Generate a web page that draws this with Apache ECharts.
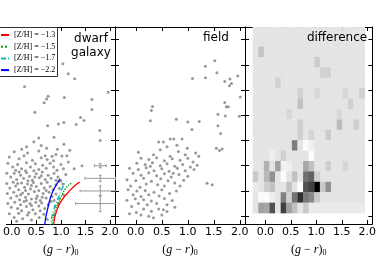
<!DOCTYPE html>
<html><head><meta charset="utf-8">
<script src="https://cdn.jsdelivr.net/npm/echarts@6/dist/echarts.min.js"></script>
<style>html,body{margin:0;padding:0;background:#fff}#c{width:379px;height:262px}</style>
</head><body><div id="c"></div>
<script>
// ---- data ----
const xTicks = [0, 0.5, 1.0, 1.5, 2.0];
const yTicks = [19, 20, 21, 22, 23, 24, 25, 26];
const xRangeFirst = [-0.11, 2.1];   // first panel is cut at the left edge of the picture
const xRange = [-0.4, 2.1];
const yRange = [18.5, 26.31];

const dwarfPts = [
 [1.04,19.96],[1.15,20.35],[1.28,20.55],[0.26,20.87],[0.74,21.25],[0.71,21.35],[0.66,21.5],[1.07,21.29],[1.63,21.37],[1.96,21.09],[1.63,21.77],[0.47,21.88],[1.4,22.09],[1.47,22.21],[1.06,22.29],[0.95,22.35],
 [0.73,22.41],[1.31,22.37],[1.79,22.6],[0.55,22.9],[0.86,22.87],[1.8,23.0],[1.06,23.15],[0.6,23.2],[0.71,23.31],[0.93,23.35],[1.18,23.39],[0.68,23.6],[0.82,23.62],[1.02,23.61],[1.43,24.0],[1.27,24.12],
 [1.15,23.85],[0.3,23.25],[0.45,23.05],[0.2,23.35],
 [0.05,23.45],[0.32,23.5],[0.55,23.42],[0.6,23.68],[0.9,23.55],[0.15,23.72],[0.42,23.78],[0.72,23.75],[1.12,23.6],[-0.05,23.65],[0.25,23.6],[0.85,23.8],
 [-0.08,23.9],[0.02,24.05],[0.12,23.95],[0.2,24.12],[0.3,23.88],[0.38,24.05],[0.48,23.92],[0.55,24.15],[0.63,23.98],[0.7,24.1],[0.78,23.9],[0.85,24.05],[0.92,24.18],[1.0,23.95],[0.08,24.18],[0.45,24.2],[0.28,24.2],[1.05,24.12],
 [-0.1,24.3],[-0.02,24.45],[0.05,24.3],[0.1,24.55],[0.18,24.38],[0.24,24.5],[0.3,24.28],[0.36,24.42],[0.42,24.58],[0.5,24.32],[0.56,24.48],[0.62,24.25],[0.68,24.55],[0.74,24.38],[0.8,24.5],[0.86,24.3],[0.94,24.45],[1.0,24.6],[0.15,24.25],[0.47,24.45],[0.9,24.58],[0.33,24.6],[0.6,24.4],[1.1,24.35],
 [-0.1,24.7],[-0.04,24.88],[0.03,24.65],[0.08,24.8],[0.14,24.95],[0.2,24.68],[0.26,24.85],[0.32,24.72],[0.38,24.92],[0.44,24.66],[0.5,24.82],[0.55,24.98],[0.6,24.7],[0.66,24.88],[0.72,24.65],[0.78,24.82],[0.84,24.95],[0.9,24.75],[0.97,24.9],[1.04,24.72],[0.12,24.7],[0.4,24.78],[0.7,24.98],[0.28,24.98],[0.96,24.62],
 [-0.09,25.1],[-0.02,25.28],[0.04,25.05],[0.1,25.2],[0.16,25.35],[0.22,25.08],[0.28,25.25],[0.34,25.12],[0.4,25.32],[0.46,25.02],[0.52,25.2],[0.58,25.38],[0.64,25.1],[0.7,25.28],[0.76,25.05],[0.82,25.22],[0.9,25.12],[0.96,25.3],[1.05,25.15],[0.18,25.15],[0.5,25.3],[0.62,25.25],[0.3,25.38],[0.86,25.38],
 [-0.08,25.5],[-0.01,25.65],[0.06,25.45],[0.12,25.7],[0.18,25.55],[0.25,25.42],[0.3,25.62],[0.37,25.5],[0.43,25.75],[0.49,25.45],[0.55,25.6],[0.61,25.48],[0.67,25.7],[0.74,25.55],[0.8,25.42],[0.88,25.62],[0.95,25.5],[0.2,25.78],[0.58,25.78],[0.4,25.58],
 [-0.05,25.9],[0.05,26.05],[0.14,25.88],[0.22,26.1],[0.32,25.95],[0.4,26.15],[0.48,25.9],[0.56,26.05],[0.65,25.92],[0.72,26.12],[0.1,26.2],[0.35,25.85],[0.85,25.95]
];

const fieldPts = [
 [1.52,19.84],[1.34,20.06],[1.56,20.31],[1.09,20.54],[1.34,20.51],[1.96,20.44],[1.71,20.66],[1.81,20.56],[1.84,20.74],[1.8,20.83],[2.01,21.28],[1.71,21.49],[1.74,21.66],[1.78,21.66],[0.32,21.65],[0.3,21.81],[1.58,21.96],[1.72,22.03],[1.99,22.04],[0.28,22.22],[0.78,22.16],[1.0,22.27],[1.22,22.25],
 [1.08,22.56],[1.58,22.41],[1.63,22.72],[1.55,23.31],[1.61,23.4],[1.66,23.34],[1.37,24.69],[1.47,24.75],
 [0.66,22.94],[0.73,22.94],[0.89,22.94],[0.53,23.06],[0.44,23.06],[0.6,23.25],[0.79,23.19],[0.99,23.31],[0.47,23.37],[0.82,23.44],[0.95,23.56],[1.15,23.5],[1.21,23.62],[0.05,23.47],[0.34,23.56],[0.66,23.62],
 [0.1,23.7],[0.25,23.75],[0.4,23.68],[0.55,23.8],[0.7,23.72],[0.85,23.78],[1.0,23.7],[1.1,23.85],
 [0.02,23.9],[0.18,23.95],[0.32,23.88],[0.47,24.0],[0.6,23.92],[0.75,24.02],[0.9,23.95],[1.05,24.05],[1.18,23.98],
 [-0.12,24.1],[0.05,24.15],[0.2,24.08],[0.35,24.2],[0.5,24.12],[0.64,24.22],[0.8,24.1],[0.95,24.2],[1.12,24.15],[0.28,24.02],[0.72,24.3],
 [-0.05,24.3],[0.1,24.38],[0.25,24.28],[0.4,24.4],[0.55,24.32],[0.68,24.45],[0.83,24.35],[1.0,24.42],[0.15,24.5],[0.48,24.52],
 [-0.17,24.56],[0.0,24.6],[0.3,24.62],[0.62,24.6],[0.75,24.68],[0.92,24.58],[0.2,24.72],[0.42,24.75],[0.55,24.8],[0.85,24.8],[-0.1,24.8],[0.08,24.85],
 [-0.15,24.95],[0.02,25.0],[0.18,24.98],[0.35,25.05],[0.5,24.95],[0.65,25.1],[0.78,25.0],[0.25,25.15],[0.45,25.2],[-0.05,25.15],[0.1,25.22],
 [-0.17,25.37],[-0.01,25.31],[0.15,25.35],[0.3,25.4],[0.55,25.3],[0.7,25.38],[0.4,25.5],[0.22,25.55],[0.6,25.55],[0.05,25.5],
 [-0.08,25.62],[0.01,25.85],[0.15,25.72],[0.53,25.75],[0.44,25.72],[0.6,25.81],[0.3,25.8],[0.75,25.65],[0.1,25.95],[0.34,26.06],[0.25,26.0],[0.5,25.95],[-0.12,25.9]
];

const isoLabels = ['[Z/H] = \u22121.3', '[Z/H] = \u22121.5', '[Z/H] = \u22121.7', '[Z/H] = \u22122.2'];
const isoM13 = [[0.85,26.5],[0.855,26.28],[0.92,25.75],[1.015,25.37],[1.145,25.06],[1.27,24.81],[1.38,24.65]];
const isoM15 = [[0.81,26.5],[0.82,26.28],[0.89,25.75],[0.99,25.3],[1.09,24.92],[1.21,24.69]];
const isoM17 = [[0.78,26.5],[0.79,26.27],[0.855,25.75],[0.94,25.31],[1.015,24.94],[1.11,24.62]];
const isoM22 = [[0.67,26.5],[0.676,26.25],[0.726,25.75],[0.79,25.25],[0.87,24.88],[0.985,24.52]];

// representative photometric errors: [color, mag, colorErr, magErr]
const errBars = [[1.8,24.0,0.12,0.08],[1.8,24.5,0.31,0.12],[1.8,25.0,0.41,0.2],[1.8,25.5,0.5,0.32]];

// difference Hess diagram: bins
const diffX0 = -0.25, diffDX = 0.11;
const diffY0 = 18.45, diffDY = 0.4125;
const diffRows = [
 [0,0,0,0,0,0,0,0,0,0,0,0,0,0,0,0,0,0,0,0],
 [0,0,0,0,0,0,0,0,0,0,0,0,0,0,0,0,0,0,0,0],
 [0,1.2,0,0,0,0,0,0,0,0,0,0,0,0,0,0,0,0,0,0],
 [0,0,0,0,0,0,0,0,0,0,0,0.9,0,0,0,0,0,0,0,0],
 [0,0,0,0,0,0,0,0,0,0,0,0,0.7,0.7,0,0,0,0,0,0],
 [0,0,0,0,0.7,0,0,0,0,0,0,0,0,0,0,0,0,0,0,0],
 [0,0,0,0,0,0,0,0,0.7,0,0,0.5,0,0,0,0,0.5,0,0,0.7],
 [0,0,0,0,0,0,0,0,1.3,0,0,0,0,0,0,0,0,0.7,0,0],
 [0,0,0,0,0,0,0.5,0,0,0,0,0,0,0,0,0.5,0,0,0,0],
 [0,0,0,0,0,0,0,0,0.8,0,0,0,0,0,0,1.5,0,0,0.8,0],
 [0,0,0,0,0,0,0,0,0.8,0,0.6,0,0,0.9,0,0,0,0,0,0],
 [0,0,0,0,0,0,0,3.8,0,-0.8,-0.4,0,0,0,0,0,0,0,0,0],
 [0,0,0,-0.4,0,0.7,0,0,0,0,-0.9,0,0,0,0,0,0,0,0,0],
 [0,0,1.9,0,2.5,-0.5,-0.4,0,0,2.3,1.3,0,0,0.8,0,0,0.5,0,0,0],
 [1.0,0,1.6,3.1,0,-0.9,0,1.3,0,4.3,4.9,0.8,0,0,0,0,0,0,0,0],
 [-0.2,0,0.8,1.3,0,0,1.3,0,-1.0,5.5,6.1,8.5,1.0,3.1,0,0,0,0,0,0],
 [0,-0.8,-0.9,-0.4,0,3.7,0.7,4.3,6.7,4.0,3.4,1.0,0,0,0,0,0,0,0,0],
 [0,2.5,2.3,5.5,0,6.1,2.5,1.3,0,1.0,-0.2,-0.2,-0.2,-0.2,-0.2,-0.2,-0.2,-0.2,-0.2,-0.2]
];

const panelTexts = ['dwarf\ngalaxy', 'field', 'difference'];

// ---- build ----
const diffData = [];
diffRows.forEach((row, r) => row.forEach((v, c) => diffData.push([diffX0 + (c + 0.5) * diffDX, diffY0 + (r + 0.5) * diffDY, v])));

const FONT = 'DejaVu Sans';
const grids = [{left: 0, width: 115}, {left: 115, width: 130}, {left: 245, width: 130}].map(g => Object.assign(g, {top: 27, height: 208}));

const xAxes = [], yAxes = [];
for (let i = 0; i < 3; i++) {
  const rng = i === 0 ? xRangeFirst : xRange;
  const base = {
    type: 'value', gridIndex: i, min: rng[0], max: rng[1],
    axisLine: {show: true, onZero: false, lineStyle: {color: '#000', width: 1}},
    axisTick: {show: true, inside: true, length: 4, customValues: xTicks, lineStyle: {color: '#000'}},
    splitLine: {show: false}
  };
  xAxes.push(Object.assign({}, base, {
    position: 'bottom',
    axisLabel: {show: true, customValues: xTicks, formatter: v => v.toFixed(1), fontFamily: FONT, fontSize: 11, color: '#000', margin: 3},
    name: '{p|(}{i|g}{p| \u2212 }{i|r}{p|)}{s|0}',
    nameLocation: 'middle', nameGap: 18,
    nameTextStyle: {rich: {
      p: {fontFamily: 'Liberation Serif', fontSize: 12, color: '#000'},
      i: {fontFamily: 'Liberation Serif', fontStyle: 'italic', fontSize: 12, color: '#000'},
      s: {fontFamily: 'Liberation Serif', fontSize: 8, color: '#000', padding: [7, 0, 0, 0]}
    }}
  }));
  xAxes.push(Object.assign({}, base, {position: 'top', axisLabel: {show: false}}));
  const ybase = {
    type: 'value', gridIndex: i, min: yRange[0], max: yRange[1], inverse: true,
    axisLine: {show: true, onZero: false, lineStyle: {color: '#000', width: 1}},
    axisTick: {show: true, inside: true, length: 4, customValues: yTicks, lineStyle: {color: '#000'}},
    axisLabel: {show: false}, splitLine: {show: false}
  };
  yAxes.push(Object.assign({}, ybase, {position: 'left', show: i !== 0}));
  yAxes.push(Object.assign({}, ybase, {position: 'right'}));
}

const isoColors = ['#ff0000', '#00a000', '#00bfbf', '#0000ff'];
const isoTypes = ['solid', 'dotted', [5, 2, 1, 2], 'solid'];
const isoData = [isoM13, isoM15, isoM17, isoM22];

const series = [];
series.push({type: 'scatter', xAxisIndex: 0, yAxisIndex: 0, data: dwarfPts, symbolSize: 3, itemStyle: {color: '#808080'}, silent: true, z: 2});
isoData.forEach((d, k) => series.push({
  type: 'line', name: isoLabels[k], xAxisIndex: 0, yAxisIndex: 0, data: d, symbol: 'none', smooth: true,
  lineStyle: {color: isoColors[k], type: isoTypes[k], width: 1.3}, itemStyle: {color: isoColors[k]}, z: 3, silent: true
}));
series.push({
  type: 'custom', xAxisIndex: 0, yAxisIndex: 0, data: errBars, clip: true, silent: true, z: 3,
  renderItem: (params, api) => {
    const x = api.value(0), y = api.value(1), ex = api.value(2), ey = api.value(3);
    const L = api.coord([x - ex, y]), R = api.coord([x + ex, y]);
    const T = api.coord([x, y - ey]), B = api.coord([x, y + ey]);
    const st = {stroke: '#999', lineWidth: 1};
    const c = 1.5;
    return {type: 'group', children: [
      {type: 'line', shape: {x1: L[0], y1: L[1], x2: R[0], y2: R[1]}, style: st},
      {type: 'line', shape: {x1: T[0], y1: T[1], x2: B[0], y2: B[1]}, style: st},
      {type: 'line', shape: {x1: L[0], y1: L[1] - c, x2: L[0], y2: L[1] + c}, style: st},
      {type: 'line', shape: {x1: R[0], y1: R[1] - c, x2: R[0], y2: R[1] + c}, style: st},
      {type: 'line', shape: {x1: T[0] - c, y1: T[1], x2: T[0] + c, y2: T[1]}, style: st},
      {type: 'line', shape: {x1: B[0] - c, y1: B[1], x2: B[0] + c, y2: B[1]}, style: st}
    ]};
  }
});
series.push({type: 'scatter', xAxisIndex: 2, yAxisIndex: 2, data: fieldPts, symbolSize: 3, itemStyle: {color: '#808080'}, silent: true});
series.push({
  type: 'custom', xAxisIndex: 4, yAxisIndex: 4, data: diffData, clip: true, silent: true, z: 1,
  dimensions: ['x', 'y', 'v'], encode: {x: 0, y: 1},
  renderItem: (params, api) => {
    const cx = api.value(0), cy = api.value(1);
    const p1 = api.coord([cx - diffDX / 2, cy - diffDY / 2]);
    const p2 = api.coord([cx + diffDX / 2, cy + diffDY / 2]);
    return {type: 'rect', shape: {x: Math.min(p1[0], p2[0]), y: Math.min(p1[1], p2[1]), width: Math.abs(p2[0] - p1[0]) + 0.3, height: Math.abs(p2[1] - p1[1]) + 0.3},
      style: {fill: api.visual('color')}};
  }
});
const diffSeriesIndex = series.length - 1;

const chart = echarts.init(document.getElementById('c'), null, {renderer: 'canvas'});
chart.setOption({
  animation: false,
  backgroundColor: '#fff',
  grid: grids,
  xAxis: xAxes,
  yAxis: yAxes,
  visualMap: {type: 'continuous', show: false, seriesIndex: diffSeriesIndex, dimension: 2, min: -1, max: 8.5, inRange: {color: ['#ffffff', '#000000']}},
  legend: {
    data: isoLabels, orient: 'vertical', left: 0, top: 28, padding: [2, 2, 1.5, 0],
    itemWidth: 8, itemHeight: 10, itemGap: 1.7,
    itemStyle: {opacity: 0},
    backgroundColor: '#fff', borderWidth: 0, z: 6,
    textStyle: {fontFamily: 'Liberation Serif', fontSize: 8, color: '#000', lineHeight: 10},
    selectedMode: false
  },
  graphic: [
    {type: 'rect', z: 100, shape: {x: -5, y: 27.5, width: 62.5, height: 49}, style: {fill: 'none', stroke: '#333', lineWidth: 1}},
    {type: 'text', x: 91, y: 32, style: {text: panelTexts[0], font: '12px "DejaVu Sans"', fill: '#000', textAlign: 'center', textVerticalAlign: 'top', lineHeight: 14}, z: 10},
    {type: 'text', x: 216, y: 32, style: {text: panelTexts[1], font: '12px "DejaVu Sans"', fill: '#000', textAlign: 'center', textVerticalAlign: 'top'}, z: 10},
    {type: 'text', x: 337, y: 32, style: {text: panelTexts[2], font: '12px "DejaVu Sans"', fill: '#000', textAlign: 'center', textVerticalAlign: 'top'}, z: 10}
  ],
  series: series
});
</script></body></html>
